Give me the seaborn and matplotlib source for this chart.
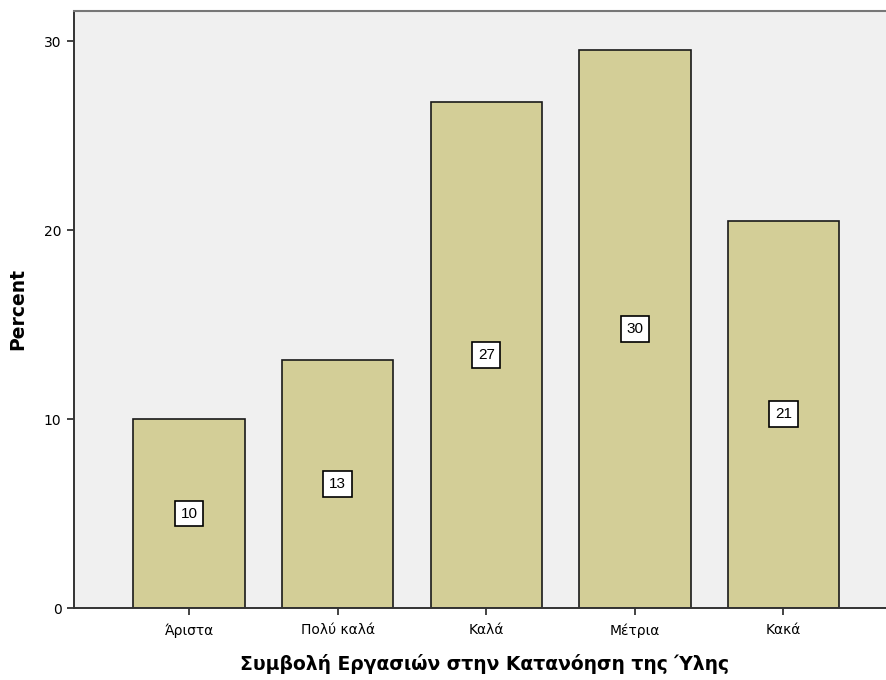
import matplotlib
matplotlib.use("Agg")
import matplotlib.pyplot as plt
import seaborn as sns
import pandas as pd

# data
categories = ["Άριστα", "Πολύ καλά", "Καλά", "Μέτρια", "Κακά"]
percent = [10.0, 13.1, 26.8, 29.5, 20.5]
labels = ["10", "13", "27", "30", "21"]

df = pd.DataFrame({"cat": categories, "pct": percent})

sns.set_style("white")
plt.rcParams["font.family"] = ["DejaVu Sans"]
plt.rcParams["text.color"] = "black"

fig = plt.figure(figsize=(8.86, 6.8), dpi=100)
ax = fig.add_axes([74 / 886, 72 / 680, 1 - 74 / 886, 597 / 680])
ax.set_facecolor("#F0F0F0")

sns.barplot(data=df, x="cat", y="pct", ax=ax, color="#D3CE97", saturation=1,
            width=0.75, edgecolor="#1a1a1a", linewidth=1.2)

# value labels in white boxes at half height
for i, (v, lab) in enumerate(zip(percent, labels)):
    ax.text(i, v / 2, lab, ha="center", va="center", fontsize=11,
            color="black", family=["Liberation Sans", "DejaVu Sans"],
            bbox=dict(boxstyle="square,pad=0.38", fc="white", ec="black", lw=1.2))

ax.set_xlim(-0.774, 4.69)
ax.set_ylim(0, 31.59)
ax.set_yticks([0, 10, 20, 30])
ax.tick_params(axis="both", direction="out", length=5, width=1.2,
               color="#222222", labelcolor="black", labelsize=10, pad=4,
               left=True, bottom=True)
ax.tick_params(axis="x", pad=6)

for side in ["left", "bottom"]:
    ax.spines[side].set_color("#333333")
    ax.spines[side].set_linewidth(1.4)
ax.spines["top"].set_color("#777777")
ax.spines["top"].set_linewidth(1.5)
ax.spines["right"].set_visible(False)

ax.set_xlabel("Συμβολή Εργασιών στην Κατανόηση της Ύλης", fontsize=13.5,
              fontweight="bold", color="black")
ax.xaxis.set_label_coords(0.506, -0.077)
ax.set_ylabel("Percent", fontsize=13.5, fontweight="bold", color="black",
              labelpad=12)

fig.savefig("out.png", dpi=100)
